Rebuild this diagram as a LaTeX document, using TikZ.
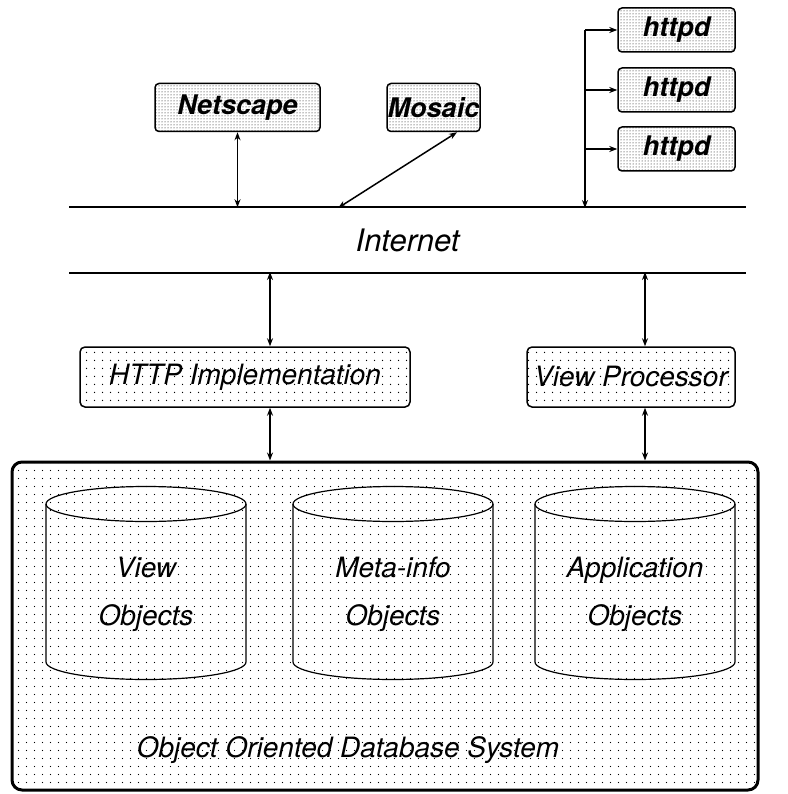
\documentclass[tikz,border=0pt]{standalone}
\usepackage{fontspec}
\setmainfont{TeX Gyre Heros}
\usetikzlibrary{arrows.meta,patterns}

\pgfdeclarepatternformonly{sparsedots}{\pgfpointorigin}{\pgfpoint{7.5pt}{7.5pt}}{\pgfpoint{7.5pt}{7.5pt}}%
  {\pgfpathcircle{\pgfpoint{3.75pt}{3.75pt}}{0.75pt}\pgfusepath{fill}}

\begin{document}
\begin{tikzpicture}[x=1pt, y=-1pt, line width=1.5pt, >={Stealth[length=8pt,width=6pt]},
    client/.style={draw, rounded corners=4pt, pattern=dots, inner sep=0pt, minimum height=48pt,
      font=\fontsize{27}{30}\selectfont\bfseries\itshape},
    layer/.style={draw, rounded corners=5pt, pattern=sparsedots, inner sep=0pt, minimum height=60pt,
      font=\fontsize{28}{30}\selectfont\itshape},
    captext/.style={font=\fontsize{28}{48}\selectfont\itshape, align=center}]
    \useasboundingbox (0,0) rectangle (787,794);

    % database system with its three stores
    \node[draw, line width=3pt, rounded corners=10pt, pattern=sparsedots,
      minimum width=746pt, minimum height=328pt] (db) at (385,626) {};
    \foreach \cx in {146,393,635} {
        \draw[line width=1.2pt] (\cx-100,504) -- (\cx-100,662)
            arc[start angle=180, end angle=0, x radius=100, y radius=17.5] -- (\cx+100,504);
        \draw[line width=1.2pt] (\cx,504) ellipse [x radius=100, y radius=17.5];
    }
    \node[captext] (viewobj) at (146,594) {View\\Objects};
    \node[captext] (metaobj) at (393,594) {Meta-info\\Objects};
    \node[captext] (appobj) at (635,594) {Application\\Objects};
    \node[captext] (dbname) at (348,750) {Object Oriented Database System};

    % server side
    \node[layer, minimum width=330pt] (http) at (245,377) {HTTP Implementation};
    \node[layer, minimum width=208pt] (viewproc) at (631,377) {View Processor};

    % the net
    \node[minimum width=675pt, minimum height=64pt, inner sep=0pt,
      font=\fontsize{31}{33}\selectfont\itshape] (internet) at (407.5,240) {Internet};
    \draw (internet.north west) -- (internet.north east);
    \draw (internet.south west) -- (internet.south east);

    % clients and daemons
    \node[client, minimum width=165pt] (netscape) at (237.5,107.5) {Netscape};
    \node[client, minimum width=93pt] (mosaic) at (433.5,107.5) {Mosaic};
    \node[client, minimum width=117pt, minimum height=44pt] (httpd1) at (676.5,30) {httpd};
    \node[client, minimum width=117pt, minimum height=44pt] (httpd2) at (676.5,90) {httpd};
    \node[client, minimum width=117pt, minimum height=44pt] (httpd3) at (676.5,149) {httpd};

    \coordinate (mosaicend) at (338,208);
    \coordinate (srvtap) at (585,208);
    \coordinate (httpin) at (270,272);
    \coordinate (viewin) at (645,272);

    \draw[<->] (netscape) -- (netscape |- internet.north);
    \draw[<->] ([xshift=23.5pt]mosaic.south) -- (mosaicend);
    \draw[->] (httpd1.west -| srvtap) -- (srvtap);
    \foreach \i in {1,2,3}
        \draw[->] (httpd\i.west -| srvtap) -- (httpd\i.west);

    \draw[<->] (httpin) -- (httpin |- http.north);
    \draw[<->] (httpin |- http.south) -- (httpin |- db.north);
    \draw[<->] (viewin) -- (viewin |- viewproc.north);
    \draw[<->] (viewin |- viewproc.south) -- (viewin |- db.north);
\end{tikzpicture}
\end{document}
